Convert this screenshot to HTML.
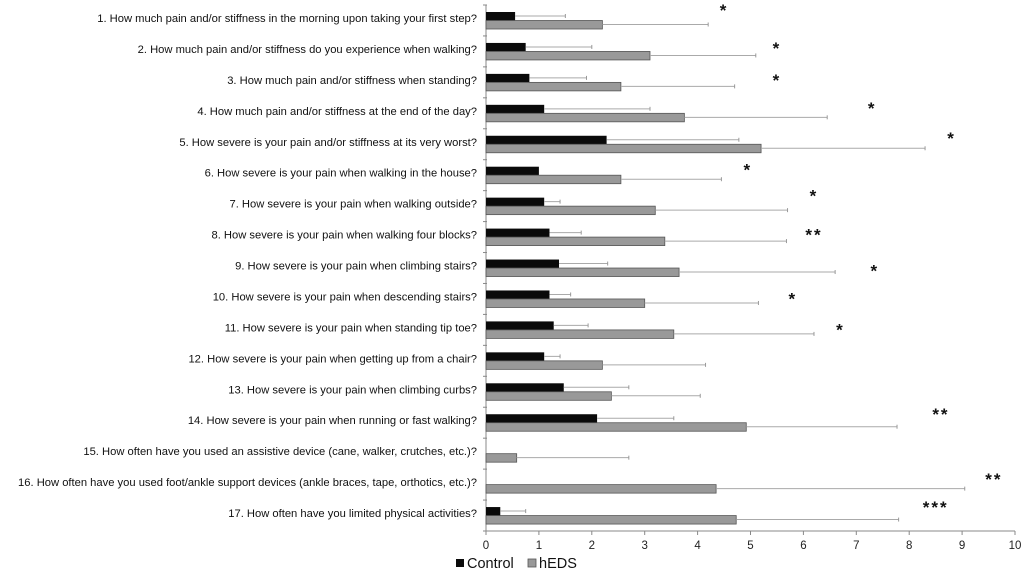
<!DOCTYPE html>
<html><head><meta charset="utf-8"><style>
body{margin:0;background:#fff;}
svg{display:block;font-family:"Liberation Sans",sans-serif;}
</style></head><body>
<svg id="chart" width="1025" height="575" viewBox="0 0 1025 575" xmlns="http://www.w3.org/2000/svg"></svg>
<script>
const categories=["1. How much pain and/or stiffness in the morning upon taking your first step?","2. How much pain and/or stiffness do you experience when walking?","3. How much pain and/or stiffness when standing?","4. How much pain and/or stiffness at the end of the day?","5. How severe is your pain and/or stiffness at its very worst?","6. How severe is your pain when walking in the house?","7. How severe is your pain when walking outside?","8. How severe is your pain when walking four blocks?","9. How severe is your pain when climbing stairs?","10. How severe is your pain when descending stairs?","11. How severe is your pain when standing tip toe?","12. How severe is your pain when getting up from a chair?","13. How severe is your pain when climbing curbs?","14. How severe is your pain when running or fast walking?","15. How often have you used an assistive device (cane, walker, crutches, etc.)?","16. How often have you used foot/ankle support devices (ankle braces, tape, orthotics, etc.)?","17. How often have you limited physical activities?"];
const controlMean=[0.55,0.75,0.82,1.1,2.28,1.0,1.1,1.2,1.38,1.2,1.28,1.1,1.47,2.1,0,0,0.27];
const controlErr=[0.95,1.25,1.08,2.0,2.5,0,0.3,0.6,0.92,0.4,0.65,0.3,1.23,1.45,0,0,0.48];
const hedsMean=[2.2,3.1,2.55,3.75,5.2,2.55,3.2,3.38,3.65,3.0,3.55,2.2,2.37,4.92,0.58,4.35,4.73];
const hedsErr=[2.0,2.0,2.15,2.7,3.1,1.9,2.5,2.3,2.95,2.15,2.65,1.95,1.68,2.85,2.12,4.7,3.07];
const sigLabels=["*","*","*","*","*","*","*","**","*","*","*","","","**","","**","***"];
const sigValue=[4.5,5.5,5.5,7.3,8.8,4.95,6.2,6.2,7.35,5.8,6.7,0,0,8.6,0,9.6,8.5];
const sigYOffset=[1,8,9,6,5,6,1,9,14,11,11,0,0,3,0,6,3];
const xTicks=[0,1,2,3,4,5,6,7,8,9,10];

const svg=document.getElementById('chart');
const NS='http://www.w3.org/2000/svg';
const x0=486,x1=1015,yTop=5,yAxis=531,band=(yAxis-yTop)/17;
const xs=v=>x0+(v/10)*(x1-x0);
const bandY=i=>yTop+i*band;
function mk(tag,attrs,parent){const e=document.createElementNS(NS,tag);for(const k in attrs)e.setAttribute(k,attrs[k]);(parent||svg).appendChild(e);return e;}

let ax=mk('line',{x1:x0,y1:yTop,x2:x0,y2:yAxis,stroke:'#888','stroke-width':1});


let bx=mk('line',{x1:x0,y1:yAxis,x2:x1,y2:yAxis,stroke:'#888','stroke-width':1});


for(let i=0;i<=categories.length;i++){
  const t=mk('line',{x1:x0-3,y1:bandY(i),x2:x0+1,y2:bandY(i),stroke:'#888'});
  
  
}
xTicks.forEach(v=>{
  const t=mk('line',{x1:xs(v),y1:yAxis,x2:xs(v),y2:yAxis+4,stroke:'#888'});
  
  
  const l=mk('text',{x:xs(v),y:yAxis+18,'text-anchor':'middle','font-size':11.5,fill:'#222'});
  l.textContent=v;
  
  
});
function errBar(xa,xb,y){
  if(xb<=xa)return;
  const g=mk('g',{});
  
  
  mk('line',{x1:xa,y1:y,x2:xb,y2:y,stroke:'#aaa','stroke-width':1},g);
  mk('line',{x1:xb,y1:y-2,x2:xb,y2:y+2,stroke:'#999','stroke-width':1},g);
}
categories.forEach((c,i)=>{
  const by=bandY(i);
  const lab=mk('text',{x:477,y:by+17,'text-anchor':'end','font-size':11.2,fill:'#111'});
  lab.textContent=c;
  
  
  if(controlMean[i]>0){
    const r=mk('rect',{x:x0,y:by+7,width:xs(controlMean[i])-x0,height:8.5,fill:'#0a0a0a'});
    
    
    errBar(xs(controlMean[i]),xs(controlMean[i]+controlErr[i]),by+11);
  }
  const h=mk('rect',{x:x0,y:by+15.5,width:xs(hedsMean[i])-x0,height:8.5,fill:'#999',stroke:'#555','stroke-width':0.8});
  
  
  errBar(xs(hedsMean[i]),xs(hedsMean[i]+hedsErr[i]),by+19.5);
  if(sigLabels[i]){
    const s=mk('text',{x:xs(sigValue[i]),y:by+sigYOffset[i]+10,'text-anchor':'middle','font-size':17,'font-weight':'bold',fill:'#111','letter-spacing':'2'});
    s.textContent=sigLabels[i];
    
    
  }
});
const lg=mk('g',{});


const l1=mk('rect',{x:456,y:559,width:8,height:8,fill:'#0a0a0a'},lg);


const t1=mk('text',{x:467,y:568,'font-size':14.5,fill:'#111'},lg);
t1.textContent='Control';


const l2=mk('rect',{x:528,y:559,width:8,height:8,fill:'#999',stroke:'#555','stroke-width':0.8},lg);


const t2=mk('text',{x:539,y:568,'font-size':14.5,fill:'#111'},lg);
t2.textContent='hEDS';


</script>
</body></html>
